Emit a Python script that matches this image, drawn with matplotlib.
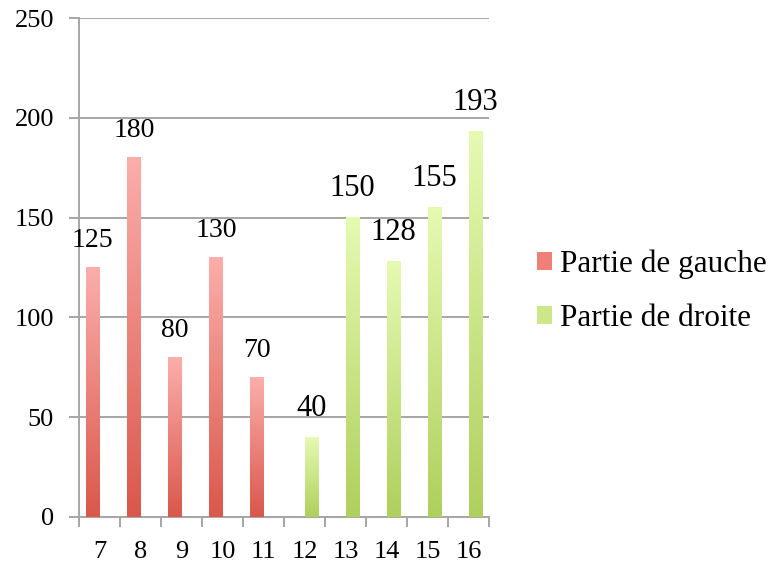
import matplotlib.pyplot as plt
import matplotlib.colors as mcolors
from matplotlib.patches import Patch
import numpy as np

# données
categories = ['7', '8', '9', '10', '11', '12', '13', '14', '15', '16']
gauche = [125, 180, 80, 130, 70, 0, 0, 0, 0, 0]
droite = [0, 0, 0, 0, 0, 40, 150, 128, 155, 193]
series_names = ['Partie de gauche', 'Partie de droite']
y_ticks = [0, 50, 100, 150, 200, 250]

# dégradés (haut -> bas)
red_top, red_bot = '#FBAEAB', '#DA574B'
green_top, green_bot = '#E6FAB2', '#AED05C'

plt.rcParams['font.family'] = ['Liberation Serif', 'DejaVu Serif']

fig = plt.figure(figsize=(7.74, 5.65), dpi=100)
ax = fig.add_axes([0.102, 0.085, 0.53, 0.883])

x = np.arange(len(categories))
w = 0.32


def gradient_bar(xc, h, top, bot):
    if h <= 0:
        return
    cmap = mcolors.LinearSegmentedColormap.from_list('g', [bot, top])
    grad = np.linspace(0, 1, 256).reshape(-1, 1)
    ax.imshow(grad, extent=[xc - w / 2, xc + w / 2, 0, h], origin='lower',
              cmap=cmap, aspect='auto', zorder=3, interpolation='bicubic')


for i in range(len(categories)):
    gradient_bar(x[i] - w / 2, gauche[i], red_top, red_bot)
    gradient_bar(x[i] + w / 2, droite[i], green_top, green_bot)
    if gauche[i] > 0:
        ax.text(x[i] - w / 2, gauche[i] + 13.5, str(gauche[i]), ha='center',
                va='center', fontsize=20, color='black')
    if droite[i] > 0:
        ax.text(x[i] + w / 2, droite[i] + 14.5, str(droite[i]), ha='center',
                va='center', fontsize=22, color='black')

ax.set_xlim(-0.5, len(categories) - 0.5)
ax.set_ylim(0, 250)
ax.set_yticks(y_ticks)
ax.set_yticklabels([str(v) for v in y_ticks], fontsize=19)
ax.yaxis.grid(True, color='#A6A6A6', linewidth=1.4, zorder=0)
ax.set_axisbelow(True)

# ticks x aux limites des catégories, étiquettes au centre
ax.set_xticks(np.arange(-0.5, len(categories)), minor=False)
ax.set_xticklabels([])
ax.set_xticks(x, minor=True)
ax.set_xticklabels(categories, minor=True, fontsize=19)
ax.tick_params(axis='x', which='major', length=7, width=1.4, color='#A6A6A6', direction='out')
ax.tick_params(axis='x', which='minor', length=0, pad=17)
ax.tick_params(axis='y', length=7, width=1.4, color='#A6A6A6', pad=11)

for s in ['top', 'right']:
    ax.spines[s].set_visible(False)
for s in ['left', 'bottom']:
    ax.spines[s].set_color('#A6A6A6')
    ax.spines[s].set_linewidth(1.4)

handles = [Patch(facecolor='#EE8078', edgecolor='none'),
           Patch(facecolor='#CDE68A', edgecolor='none')]
fig.legend(handles, series_names, loc='center left',
           bbox_to_anchor=(0.673, 0.485), frameon=False, fontsize=22.5,
           handlelength=0.5, handleheight=0.5, handletextpad=0.25,
           labelspacing=0.8, borderpad=0)

fig.savefig('out.png', dpi=100)
